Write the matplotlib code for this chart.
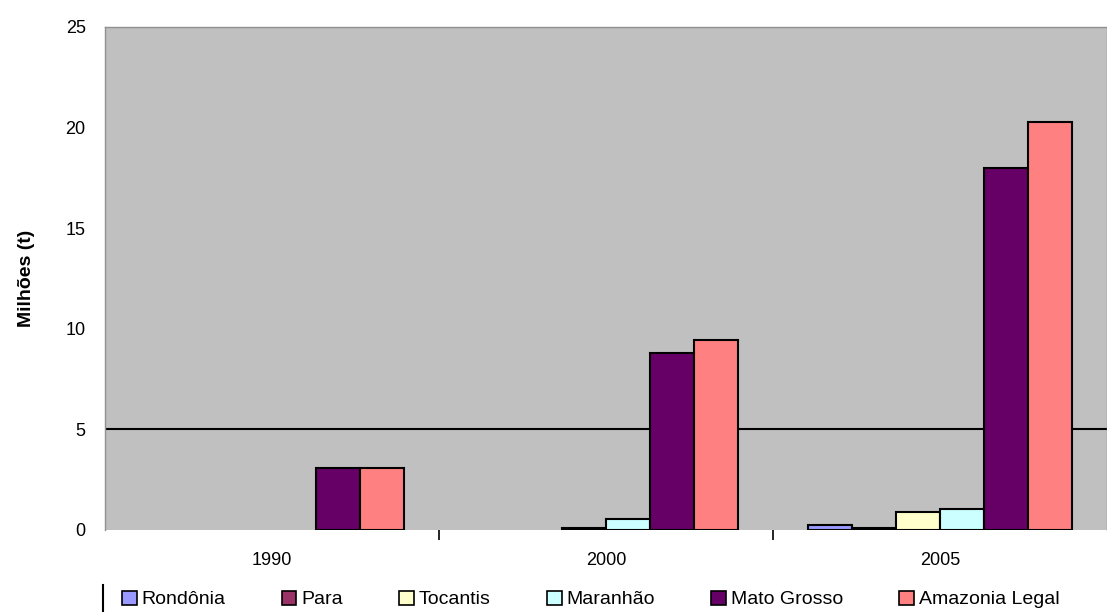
import matplotlib.pyplot as plt
from matplotlib.patches import Patch
import numpy as np

anos = ['1990', '2000', '2005']
estados = ['Rondônia', 'Para', 'Tocantis', 'Maranhão', 'Mato Grosso', 'Amazonia Legal']
cores = ['#9999FF', '#993366', '#FFFFCC', '#CCFFFF', '#660066', '#FF8080']

rondonia = [0.0, 0.0, 0.23]
para = [0.0, 0.0, 0.12]
tocantins = [0.0, 0.12, 0.87]
maranhao = [0.0, 0.53, 1.03]
mato_grosso = [3.1, 8.78, 17.97]
amazonia = [3.1, 9.42, 20.28]
valores = [rondonia, para, tocantins, maranhao, mato_grosso, amazonia]

plt.rcParams['font.family'] = ['Liberation Sans', 'DejaVu Sans']

fig = plt.figure(figsize=(11.07, 6.12), dpi=100)
ax = fig.add_axes([0.095, 0.134, 0.905, 0.822])
ax.set_facecolor('#C0C0C0')

x = np.arange(len(anos))
w = 0.132
handles = []
for i in range(len(estados)):
    v = np.array(valores[i])
    ok = v > 0  # zero values are not drawn in the original
    ax.bar(x[ok] + (i - 2.5) * w, v[ok], w, color=cores[i], edgecolor='black',
           linewidth=1.5, zorder=3)
    handles.append(Patch(facecolor=cores[i], edgecolor='black', linewidth=1.2, label=estados[i]))

ax.axhline(5, color='black', lw=1.5, zorder=2)

ax.set_xlim(-0.5, 2.5)
ax.set_ylim(0, 25)
ax.set_yticks([0, 5, 10, 15, 20, 25])
ax.tick_params(axis='y', length=0, pad=14, labelsize=13)
ax.set_xticks(x)
ax.set_xticklabels(anos)
ax.tick_params(axis='x', which='major', length=0, pad=16, labelsize=13)
ax.set_xticks([0.5, 1.5], minor=True)
ax.tick_params(axis='x', which='minor', length=7, width=1.2, color='black', direction='out')

for s in ax.spines.values():
    s.set_color('#909090')
    s.set_linewidth(1)
ax.spines['bottom'].set_visible(False)

ax.set_ylabel('Milhões (t)', fontsize=14, fontweight='bold', labelpad=22)

leg = ax.legend(handles=handles, loc='upper left', bbox_to_anchor=(0.009, -0.105), ncol=6,
                frameon=False, fontsize=14, handlelength=0.75, handleheight=0.75,
                handletextpad=0.25, columnspacing=2.9, borderaxespad=0)
fig.add_artist(plt.Line2D([103 / 1107, 103 / 1107], [0, 27 / 612], color='black', lw=1.5))

fig.savefig('out.png', dpi=100)
